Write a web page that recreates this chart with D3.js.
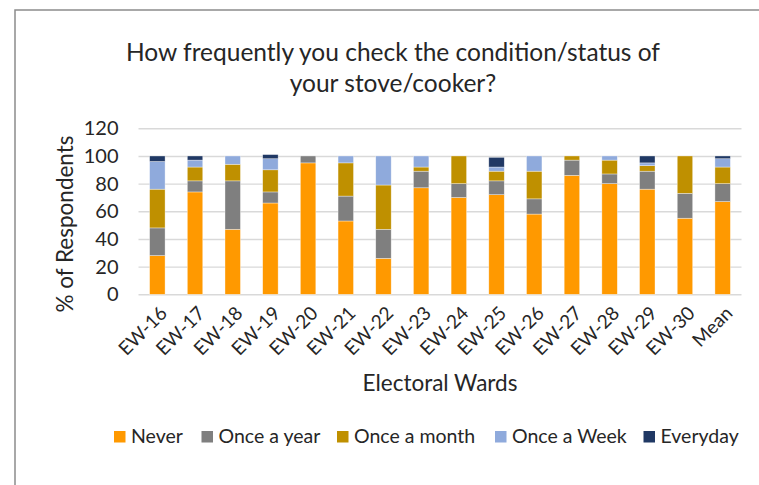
<!DOCTYPE html>
<html>
<head>
<meta charset="utf-8">
<script src="https://cdn.jsdelivr.net/npm/d3@7"></script>
<style>
  html, body { margin: 0; padding: 0; background: #fff; }
  #vis { width: 759px; height: 485px; overflow: hidden; }
  text { font-family: Lato, "Open Sans", sans-serif; fill: #262626; }
</style>
</head>
<body>
<div id="vis"></div>
<script>
// electoral wards and the share of respondents per answer (%)
const wards = ["EW-16", "EW-17", "EW-18", "EW-19", "EW-20", "EW-21", "EW-22", "EW-23",
  "EW-24", "EW-25", "EW-26", "EW-27", "EW-28", "EW-29", "EW-30", "Mean"];
const never     = [28, 74, 47, 66, 95, 53, 26, 77, 70, 72, 58, 86, 80, 76, 55, 67];
const onceYear  = [20,  8, 35,  8,  5, 18, 21, 12, 10, 10, 11, 11,  7, 13, 18, 13];
const onceMonth = [28, 10, 12, 16,  0, 24, 32,  3, 20,  7, 20,  3, 10,  4, 27, 12];
const onceWeek  = [20,  5,  6,  8,  0,  5, 21,  8,  0,  3, 11,  0,  3,  2,  0,  6];
const everyday  = [ 4,  3,  0,  3,  0,  0,  0,  0,  0,  7,  0,  0,  0,  5,  0,  2];

const seriesNames = ["Never", "Once a year", "Once a month", "Once a Week", "Everyday"];
const seriesColors = ["#ff9900", "#7f7f7f", "#bf9000", "#8faadc", "#203864"];
const yTicks = [0, 20, 40, 60, 80, 100, 120];

function stackedbar(selector) {
  ////////////////////////////////////////
  /////////////// Defaults ///////////////
  ////////////////////////////////////////

  const options = {
    width: 759,
    height: 485,
    plot: { left: 138.5, right: 741.5, top: 128.3, bottom: 294.3 },
    padding: 0.59,
  };

  // one row per ward, keyed by series name
  const data = wards.map((w, i) => ({
    ward: w,
    "Never": never[i],
    "Once a year": onceYear[i],
    "Once a month": onceMonth[i],
    "Once a Week": onceWeek[i],
    "Everyday": everyday[i],
  }));

  const stacked = d3.stack().keys(seriesNames)(data);

  ////////////////////////////////////////
  ////////////// Scales //////////////////
  ////////////////////////////////////////

  const xScale = d3.scaleBand()
    .domain(wards)
    .range([options.plot.left, options.plot.right])
    .paddingInner(options.padding)
    .paddingOuter(options.padding / 2);

  const yScale = d3.scaleLinear()
    .domain([0, 120])
    .range([options.plot.bottom, options.plot.top]);

  const color = d3.scaleOrdinal().domain(seriesNames).range(seriesColors);

  ////////////////////////////////////////
  ////////////// DOM Setup ///////////////
  ////////////////////////////////////////

  const svg = d3.select(selector).append("svg")
    .attr("width", options.width)
    .attr("height", options.height);

  // chart frame (only left and top edges fall inside the picture)
  svg.append("rect")
    .attr("x", 15).attr("y", 10)
    .attr("width", 900).attr("height", 700)
    .attr("fill", "#fff")
    .attr("stroke", "#8c8c8c")
    .attr("stroke-width", 1.5);

  // title
  const title = svg.append("text")
    .attr("text-anchor", "middle")
    .style("font-size", "24.5px");
  title.append("tspan").attr("x", 393).attr("y", 61).text("How frequently you check the condition/status of");
  title.append("tspan").attr("x", 393).attr("y", 92).text("your stove/cooker?");

  // gridlines + y labels
  const yAxis = svg.append("g")
    .attr("transform", `translate(${options.plot.left},0)`)
    .call(d3.axisLeft(yScale).tickValues(yTicks)
      .tickSize(-(options.plot.right - options.plot.left))
      .tickPadding(20));
  yAxis.select(".domain").remove();
  yAxis.selectAll("line").attr("stroke", "#d9d9d9").attr("stroke-width", 1.4);
  yAxis.selectAll("text")
    .attr("fill", "#262626")
    .style("font-size", "20px")
    .style("font-family", "Lato, sans-serif");

  // bars
  svg.append("g")
    .selectAll("g")
    .data(stacked)
    .join("g")
    .attr("fill", (d) => color(d.key))
    .selectAll("rect")
    .data((d) => d.filter((s) => s[1] - s[0] > 0))
    .join("rect")
    .attr("x", (d) => xScale(d.data.ward))
    .attr("y", (d) => yScale(d[1]))
    .attr("width", xScale.bandwidth())
    .attr("height", (d) => yScale(d[0]) - yScale(d[1]))
    .attr("stroke", "#fff")
    .attr("stroke-width", 0.6)
    .attr("stroke-opacity", 0.6);

  // x labels rotated
  const xAxis = svg.append("g")
    .attr("transform", `translate(0,${options.plot.bottom})`)
    .call(d3.axisBottom(xScale).tickSize(0).tickPadding(0));
  xAxis.select(".domain").remove();
  xAxis.selectAll("text")
    .attr("fill", "#262626")
    .style("font-size", "19px")
    .style("font-family", "Lato, sans-serif")
    .attr("text-anchor", "end")
    .attr("dy", "0.75em")
    .attr("transform", "translate(1,10) rotate(-45)");

  // axis titles
  svg.append("text")
    .attr("x", (options.plot.left + options.plot.right) / 2)
    .attr("y", 391)
    .attr("text-anchor", "middle")
    .style("font-size", "22.5px")
    .text("Electoral Wards");

  svg.append("text")
    .attr("transform", "translate(73,224) rotate(-90)")
    .attr("text-anchor", "middle")
    .style("font-size", "22.5px")
    .text("% of Respondents");

  // legend
  const legendX = [114, 201.5, 337, 495, 643.5];
  const legend = svg.append("g")
    .selectAll("g")
    .data(seriesNames)
    .join("g")
    .attr("transform", (d, i) => `translate(${legendX[i]},431)`);
  legend.append("rect")
    .attr("width", 11.5).attr("height", 11.5)
    .attr("fill", (d) => color(d));
  legend.append("text")
    .attr("x", 17).attr("y", 12.3)
    .style("font-size", "19.5px")
    .text((d) => d);
}

stackedbar("#vis");
</script>
</body>
</html>
